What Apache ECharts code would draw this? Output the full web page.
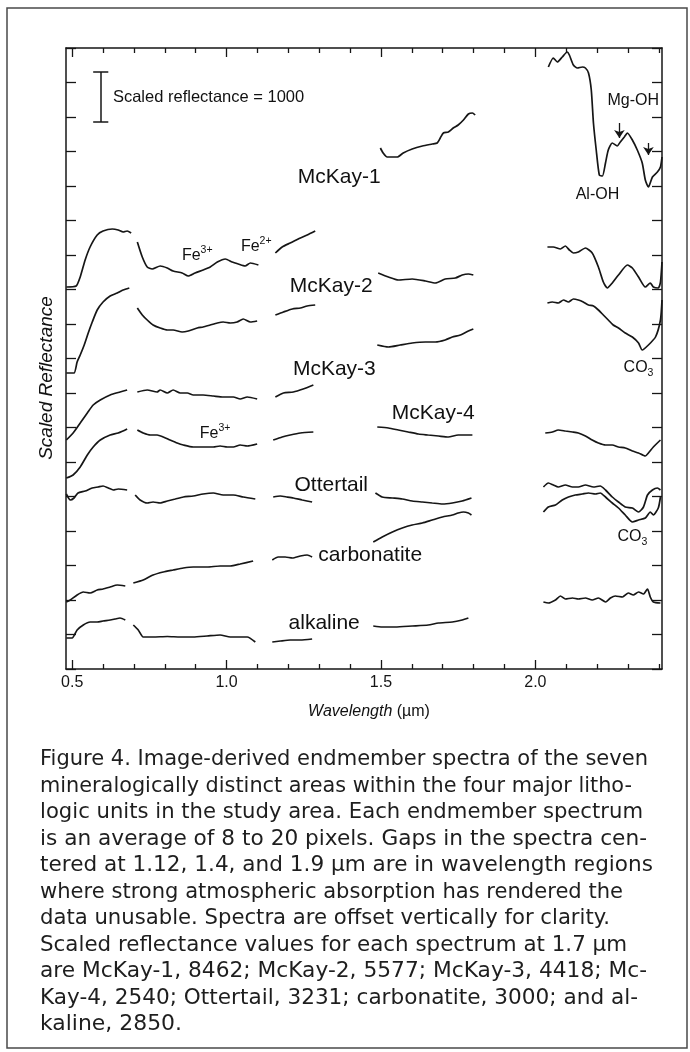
<!DOCTYPE html>
<html><head><meta charset="utf-8">
<script src="https://cdn.jsdelivr.net/npm/echarts@6/dist/echarts.min.js"></script>
<style>
html,body{margin:0;padding:0;background:#fff;}
#chart{position:absolute;left:0;top:0;width:690px;height:1052px;}
#caption{position:absolute;left:0;top:0;width:690px;height:1052px;pointer-events:none;}
.cl{position:absolute;left:40px;white-space:nowrap;font-family:'DejaVu Sans',sans-serif;font-size:21px;line-height:26px;color:#1e1e1e;transform-origin:0 50%;}
</style>
</head><body><div id="chart"></div><div id="caption"></div>
<script>
// ---------- data ----------
const xMajorTicks = [0.5, 1.0, 1.5, 2.0];
const xTickLabels = ['0.5', '1.0', '1.5', '2.0'];
const xMinorTicks = [0.6,0.7,0.8,0.9,1.1,1.2,1.3,1.4,1.6,1.7,1.8,1.9,2.1,2.2,2.3,2.4];

// each spectrum: segments of [wavelength (µm), offset scaled reflectance]
const mckay1 = [
 [[0.481,7640],[0.513,7660],[0.526,7840],[0.542,8180],[0.558,8440],[0.581,8680],[0.600,8760],[0.630,8800],[0.649,8780],[0.665,8740],[0.678,8760],[0.691,8720]],
 [[0.711,8540],[0.727,8240],[0.743,8040],[0.759,8000],[0.785,8060],[0.808,8020],[0.827,7960],[0.856,7920],[0.876,7860],[0.898,7920],[0.924,7980],[0.947,8040],[0.970,8140],[0.996,8200],[1.018,8140],[1.038,8100],[1.060,8060],[1.077,8120],[1.103,8080]],
 [[1.158,8320],[1.180,8440],[1.206,8520],[1.239,8620],[1.261,8680],[1.287,8760]],
 [[1.498,10420],[1.507,10320],[1.520,10240],[1.537,10240],[1.553,10240],[1.572,10320],[1.601,10400],[1.634,10460],[1.666,10500],[1.682,10520],[1.692,10620],[1.702,10720],[1.718,10740],[1.734,10820],[1.750,10880],[1.767,10980],[1.783,11100],[1.796,11120],[1.805,11080]],
 [[2.042,12040],[2.058,12220],[2.071,12140],[2.087,12240],[2.103,12340],[2.110,12280],[2.123,12080],[2.136,12020],[2.152,12040],[2.162,12020],[2.172,11920],[2.181,11580],[2.188,10920],[2.197,10380],[2.207,9880],[2.217,9860],[2.227,10120],[2.236,10380],[2.249,10520],[2.265,10460],[2.275,10540],[2.288,10640],[2.298,10720],[2.314,10580],[2.330,10380],[2.346,10120],[2.356,9780],[2.366,9640],[2.379,9840],[2.395,9940],[2.405,10040],[2.41,10240]]
];
const mckay2 = [
 [[0.481,5920],[0.506,5920],[0.516,6140],[0.526,6280],[0.539,6480],[0.552,6720],[0.565,6940],[0.581,7180],[0.600,7340],[0.623,7460],[0.646,7520],[0.665,7580],[0.685,7620]],
 [[0.711,7220],[0.727,7080],[0.743,6980],[0.762,6880],[0.785,6820],[0.808,6780],[0.827,6780],[0.856,6740],[0.876,6760],[0.905,6820],[0.924,6840],[0.947,6880],[0.970,6920],[0.989,6940],[1.012,6920],[1.034,6940],[1.054,7000],[1.077,6940],[1.099,6960]],
 [[1.158,7080],[1.184,7140],[1.213,7200],[1.239,7220],[1.261,7260],[1.287,7280]],
 [[1.491,7920],[1.524,7840],[1.556,7780],[1.601,7800],[1.644,7760],[1.676,7720],[1.708,7800],[1.741,7820],[1.763,7880],[1.783,7900],[1.799,7880]],
 [[2.039,8440],[2.058,8440],[2.081,8400],[2.097,8460],[2.110,8380],[2.123,8320],[2.139,8340],[2.162,8420],[2.184,8320],[2.204,8040],[2.220,7740],[2.233,7620],[2.249,7720],[2.269,7880],[2.298,8080],[2.314,8020],[2.334,7840],[2.356,7640],[2.372,7720],[2.382,7640],[2.398,7620],[2.405,7740],[2.41,8140]]
];
const mckay3 = [
 [[0.481,4580],[0.503,4720],[0.526,4920],[0.549,5120],[0.568,5280],[0.591,5380],[0.623,5480],[0.655,5540],[0.678,5580]],
 [[0.711,5540],[0.743,5580],[0.775,5540],[0.785,5580],[0.808,5520],[0.827,5580],[0.850,5520],[0.873,5520],[0.892,5480],[0.924,5480],[0.957,5460],[0.989,5440],[1.022,5440],[1.044,5400],[1.067,5440],[1.099,5400]],
 [[1.158,5440],[1.184,5520],[1.216,5540],[1.248,5600],[1.281,5680]],
 [[1.488,6480],[1.524,6440],[1.562,6480],[1.601,6520],[1.644,6540],[1.676,6540],[1.708,6580],[1.731,6640],[1.757,6680],[1.783,6760],[1.799,6800]],
 [[2.039,7320],[2.055,7340],[2.074,7320],[2.091,7380],[2.107,7340],[2.123,7400],[2.139,7380],[2.155,7340],[2.172,7280],[2.188,7260],[2.204,7180],[2.220,7080],[2.236,6980],[2.252,6880],[2.269,6820],[2.291,6720],[2.314,6640],[2.334,6520],[2.346,6380],[2.366,6480],[2.389,6640],[2.405,6980],[2.41,7380]]
];
const mckay4 = [
 [[0.481,3820],[0.503,3880],[0.526,4040],[0.549,4280],[0.568,4440],[0.591,4580],[0.623,4680],[0.649,4720],[0.678,4800]],
 [[0.711,4780],[0.730,4720],[0.753,4680],[0.775,4680],[0.795,4640],[0.817,4580],[0.840,4520],[0.860,4480],[0.892,4440],[0.924,4440],[0.957,4440],[0.979,4460],[1.002,4440],[1.022,4440],[1.044,4480],[1.067,4460],[1.099,4500]],
 [[1.151,4580],[1.180,4640],[1.206,4680],[1.239,4720],[1.281,4740]],
 [[1.488,4840],[1.524,4820],[1.556,4780],[1.588,4740],[1.621,4700],[1.653,4680],[1.686,4660],[1.718,4640],[1.750,4680],[1.796,4680]],
 [[2.032,4720],[2.055,4740],[2.074,4780],[2.097,4760],[2.120,4740],[2.139,4720],[2.162,4660],[2.184,4580],[2.204,4520],[2.227,4480],[2.249,4480],[2.269,4440],[2.291,4420],[2.314,4360],[2.334,4320],[2.356,4260],[2.366,4320],[2.382,4440],[2.405,4580]]
];
const ottertail = [
 [[0.481,3500],[0.494,3380],[0.506,3420],[0.519,3520],[0.542,3560],[0.565,3620],[0.584,3640],[0.600,3660],[0.617,3620],[0.633,3580],[0.649,3600],[0.678,3580]],
 [[0.704,3480],[0.720,3380],[0.743,3320],[0.762,3340],[0.785,3320],[0.808,3360],[0.834,3400],[0.860,3440],[0.892,3460],[0.924,3500],[0.957,3520],[0.989,3480],[1.022,3480],[1.054,3440],[1.093,3400]],
 [[1.151,3440],[1.174,3460],[1.196,3440],[1.216,3420],[1.245,3380],[1.277,3340]],
 [[1.482,3520],[1.504,3440],[1.537,3420],[1.569,3400],[1.601,3360],[1.634,3340],[1.666,3320],[1.699,3300],[1.731,3320],[1.763,3360],[1.793,3420]],
 [[2.026,3640],[2.042,3720],[2.058,3680],[2.074,3640],[2.097,3680],[2.120,3640],[2.139,3640],[2.162,3680],[2.188,3640],[2.210,3660],[2.227,3580],[2.249,3440],[2.269,3340],[2.291,3240],[2.314,3220],[2.334,3140],[2.350,3240],[2.363,3480],[2.379,3580],[2.395,3620],[2.405,3580]]
];
const carbonatite = [
 [[0.481,1340],[0.494,1380],[0.516,1480],[0.536,1540],[0.558,1520],[0.581,1580],[0.600,1600],[0.623,1640],[0.646,1680],[0.672,1660]],
 [[0.698,1720],[0.730,1780],[0.762,1880],[0.795,1940],[0.827,1980],[0.860,2020],[0.892,2040],[0.937,2040],[0.979,2060],[1.012,2060],[1.044,2100],[1.086,2160]],
 [[1.148,2180],[1.167,2240],[1.190,2240],[1.213,2220],[1.239,2260],[1.261,2280],[1.277,2240]],
 [[1.475,2540],[1.504,2640],[1.537,2740],[1.569,2820],[1.601,2880],[1.634,2920],[1.666,2980],[1.699,3040],[1.731,3080],[1.750,3120],[1.767,3140],[1.783,3120],[1.793,3080]],
 [[2.026,3140],[2.042,3240],[2.065,3280],[2.087,3380],[2.107,3440],[2.129,3480],[2.152,3500],[2.172,3520],[2.194,3500],[2.210,3520],[2.227,3440],[2.249,3320],[2.269,3220],[2.291,3080],[2.314,2940],[2.334,2980],[2.356,3020],[2.372,3140],[2.382,3080],[2.398,3220],[2.405,3440]]
];
const alkaline = [
 [[0.481,620],[0.500,620],[0.516,780],[0.536,880],[0.558,940],[0.581,940],[0.600,960],[0.623,980],[0.639,1000],[0.655,1020],[0.672,980]],
 [[0.698,880],[0.714,780],[0.730,640],[0.762,640],[0.808,650],[0.850,640],[0.892,640],[0.937,660],[0.979,680],[1.012,640],[1.044,640],[1.067,640],[1.093,540]],
 [[1.148,540],[1.174,560],[1.206,580],[1.239,580],[1.277,600]],
 [[1.475,860],[1.504,840],[1.546,840],[1.601,860],[1.653,880],[1.686,920],[1.731,940],[1.763,980],[1.783,1020]],
 [[2.026,1340],[2.042,1320],[2.065,1380],[2.081,1460],[2.097,1400],[2.120,1420],[2.139,1400],[2.162,1420],[2.184,1380],[2.204,1420],[2.227,1340],[2.243,1420],[2.259,1460],[2.282,1440],[2.301,1520],[2.317,1480],[2.334,1540],[2.350,1500],[2.363,1600],[2.372,1440],[2.382,1340],[2.405,1320]]
];

const spectraNames = ['McKay-1','McKay-2','McKay-3','McKay-4','Ottertail','carbonatite','alkaline'];
const spectra = [mckay1, mckay2, mckay3, mckay4, ottertail, carbonatite, alkaline];

// annotation texts and their anchor points (data coordinates)
const curveLabelAt = [[1.365,9840],[1.339,7660],[1.349,6000],[1.669,5120],[1.339,3680],[1.465,2280],[1.316,920]];
const featureTexts = ['{t|Fe}{sup|3+}','{t|Fe}{sup|2+}','{t|Fe}{sup|3+}','{t|Mg-OH}','{t|Al-OH}','{t|CO}{sub|3}','{t|CO}{sub|3}'];
const featureAt = [[0.905,8260],[1.096,8440],[0.963,4700],[2.317,11360],[2.201,9480],[2.334,6020],[2.314,2640]];
const arrowLines = [[2.272,10920,10620],[2.366,10520,10280]];
const scaleBarValue = 1000;
const scaleText = 'Scaled reflectance = 1000';
const scaleBarAt = [0.591, 11440];
const scaleTextAt = [0.632, 11440];
const scaleSerif = [0.568, 0.617];

const captionLines = [
 'Figure 4. Image-derived endmember spectra of the seven',
 'mineralogically distinct areas within the four major litho-',
 'logic units in the study area. Each endmember spectrum',
 'is an average of 8 to 20 pixels. Gaps in the spectra cen-',
 'tered at 1.12, 1.4, and 1.9 \u00b5m are in wavelength regions',
 'where strong atmospheric absorption has rendered the',
 'data unusable. Spectra are offset vertically for clarity.',
 'Scaled reflectance values for each spectrum at 1.7 \u00b5m',
 'are McKay-1, 8462; McKay-2, 5577; McKay-3, 4418; Mc-',
 'Kay-4, 2540; Ottertail, 3231; carbonatite, 3000; and al-',
 'kaline, 2850.'
];
const captionRight = [648,632,643,647,653,623,610,627,647,638,182];

// ---------- build ----------
const FONT = "'Liberation Sans', Arial, Helvetica, sans-serif";
const INK = '#161616';

function joinSegments(segs) {
  const out = [];
  segs.forEach((seg, i) => {
    if (i > 0) {
      const a = segs[i - 1][segs[i - 1].length - 1][0], b = seg[0][0];
      out.push([(a + b) / 2, '-']);
    }
    seg.forEach(p => out.push(p));
  });
  return out;
}

const X_MIN = 0.48, X_MAX = 2.41, Y_MIN = 0, Y_MAX = 12420, Y_INT = 690;

function xAxisDef(pos, ticks, len, showLine, showLabel) {
  return {
    type: 'value', position: pos, min: X_MIN, max: X_MAX,
    splitLine: { show: false },
    axisLine: { show: showLine, onZero: false, lineStyle: { color: INK, width: 1.5 } },
    axisTick: { show: true, inside: true, length: len, customValues: ticks, lineStyle: { color: INK, width: 1.3 } },
    axisLabel: showLabel ? {
      show: true, customValues: xMajorTicks, margin: 6, color: '#151515', fontSize: 16, fontFamily: FONT,
      formatter: v => {
        let k = 0, best = 1e9;
        xMajorTicks.forEach((t, i) => { const d = Math.abs(t - v); if (d < best) { best = d; k = i; } });
        return xTickLabels[k];
      }
    } : { show: false }
  };
}
function yAxisDef(pos) {
  return {
    type: 'value', position: pos, min: Y_MIN, max: Y_MAX, interval: Y_INT,
    splitLine: { show: false },
    axisLine: { show: true, onZero: false, lineStyle: { color: INK, width: 1.5 } },
    axisTick: { show: true, inside: true, length: 10, lineStyle: { color: INK, width: 1.3 } },
    axisLabel: { show: false }
  };
}

const lineSeries = spectra.map((segs, i) => ({
  type: 'line', name: spectraNames[i], data: joinSegments(segs),
  xAxisIndex: 0, yAxisIndex: 0, showSymbol: false, symbol: 'none',
  smooth: 0.2, connectNulls: false, silent: true, z: 3,
  lineStyle: { color: INK, width: 1.7 }
}));

// annotation text table for the custom text series
const annTexts = spectraNames.concat(featureTexts).concat([scaleText]);
const annAt = curveLabelAt.concat(featureAt).concat([scaleTextAt]);
const annKind = spectraNames.map(() => 0).concat(featureTexts.map(() => 1)).concat([2]);

const TXT = '#111111';
const rich = {
  t: { fontSize: 16, fontFamily: FONT, fill: TXT, lineHeight: 22, verticalAlign: 'middle' },
  sup: { fontSize: 10.5, fontFamily: FONT, fill: TXT, lineHeight: 22, verticalAlign: 'top' },
  sub: { fontSize: 10.5, fontFamily: FONT, fill: TXT, lineHeight: 22, verticalAlign: 'bottom' }
};

const textSeries = {
  type: 'custom', name: 'annotations', silent: true, z: 6,
  data: annAt.map((p, i) => [p[0], p[1], i]),
  renderItem: function (params, api) {
    const i = api.value(2);
    const pt = api.coord([api.value(0), api.value(1)]);
    const kind = annKind[i];
    const style = { text: annTexts[i], fill: TXT, verticalAlign: 'middle' };
    if (kind === 0) { style.font = '21px ' + FONT; style.align = 'center'; }
    else if (kind === 1) { style.font = '16px ' + FONT; style.align = 'center'; style.rich = rich; }
    else { style.font = '16.5px ' + FONT; style.align = 'left'; }
    return { type: 'text', x: pt[0], y: pt[1], style: style };
  }
};

const markerSeries = {
  type: 'scatter', name: 'markers', symbolSize: 0, silent: true, z: 5,
  itemStyle: { color: 'rgba(0,0,0,0)' }, label: { show: false },
  data: [scaleBarAt],
  markLine: {
    silent: true, animation: false, symbol: 'none', label: { show: false },
    lineStyle: { color: INK, width: 1.5, type: 'solid' },
    data: [
      [{ coord: [scaleBarAt[0], scaleBarAt[1] + scaleBarValue / 2] }, { coord: [scaleBarAt[0], scaleBarAt[1] - scaleBarValue / 2] }],
      [{ coord: [scaleSerif[0], scaleBarAt[1] + scaleBarValue / 2] }, { coord: [scaleSerif[1], scaleBarAt[1] + scaleBarValue / 2] }],
      [{ coord: [scaleSerif[0], scaleBarAt[1] - scaleBarValue / 2] }, { coord: [scaleSerif[1], scaleBarAt[1] - scaleBarValue / 2] }]
    ]
  }
};

const arrowSeries = {
  type: 'scatter', name: 'arrows', symbolSize: 0, silent: true, z: 5,
  itemStyle: { color: 'rgba(0,0,0,0)' }, label: { show: false },
  data: arrowLines.map(a => [a[0], a[1]]),
  markLine: {
    silent: true, animation: false, symbol: ['none', 'arrow'], symbolSize: 8, label: { show: false },
    lineStyle: { color: INK, width: 1.3, type: 'solid' },
    data: arrowLines.map(a => [{ coord: [a[0], a[1]] }, { coord: [a[0], a[2]] }])
  }
};

const chart = echarts.init(document.getElementById('chart'), null, { renderer: 'canvas' });
chart.setOption({
  backgroundColor: '#ffffff',
  animation: false,
  grid: { left: 66, top: 48, width: 596, height: 621, containLabel: false },
  xAxis: [
    xAxisDef('bottom', xMajorTicks, 9, true, true),
    xAxisDef('bottom', xMinorTicks, 5, false, false),
    xAxisDef('top', xMajorTicks, 9, true, false),
    xAxisDef('top', xMinorTicks, 5, false, false)
  ],
  yAxis: [yAxisDef('left'), yAxisDef('right')],
  series: lineSeries.concat([markerSeries, arrowSeries, textSeries]),
  graphic: [
    { type: 'rect', silent: true, z: 100, shape: { x: 7, y: 8, width: 680, height: 1040 },
      style: { fill: 'none', stroke: '#4a4a4a', lineWidth: 1.5 } },
    { type: 'text', silent: true, x: 47, y: 378, rotation: Math.PI / 2,
      style: { text: 'Scaled Reflectance', font: 'italic 19px ' + FONT, fill: TXT, align: 'center', verticalAlign: 'middle' } },
    { type: 'text', silent: true, x: 369, y: 712,
      style: { text: '{i|Wavelength} (\u00b5m)', font: '16px ' + FONT, fill: TXT, align: 'center', verticalAlign: 'middle',
        rich: { i: { fontStyle: 'italic', fontSize: 16, fontFamily: FONT, fill: TXT } } } }
  ]
});

// ---------- caption ----------
const cap = document.getElementById('caption');
captionLines.forEach((txt, i) => {
  const d = document.createElement('div');
  d.className = 'cl';
  d.textContent = txt;
  d.style.top = (758 + 26.5 * i - 12.6) + 'px';
  cap.appendChild(d);
  const w = d.getBoundingClientRect().width;
  const s = (captionRight[i] - 40) / w;
  d.style.transform = 'scaleX(' + s.toFixed(4) + ')';
});
</script></body></html>
